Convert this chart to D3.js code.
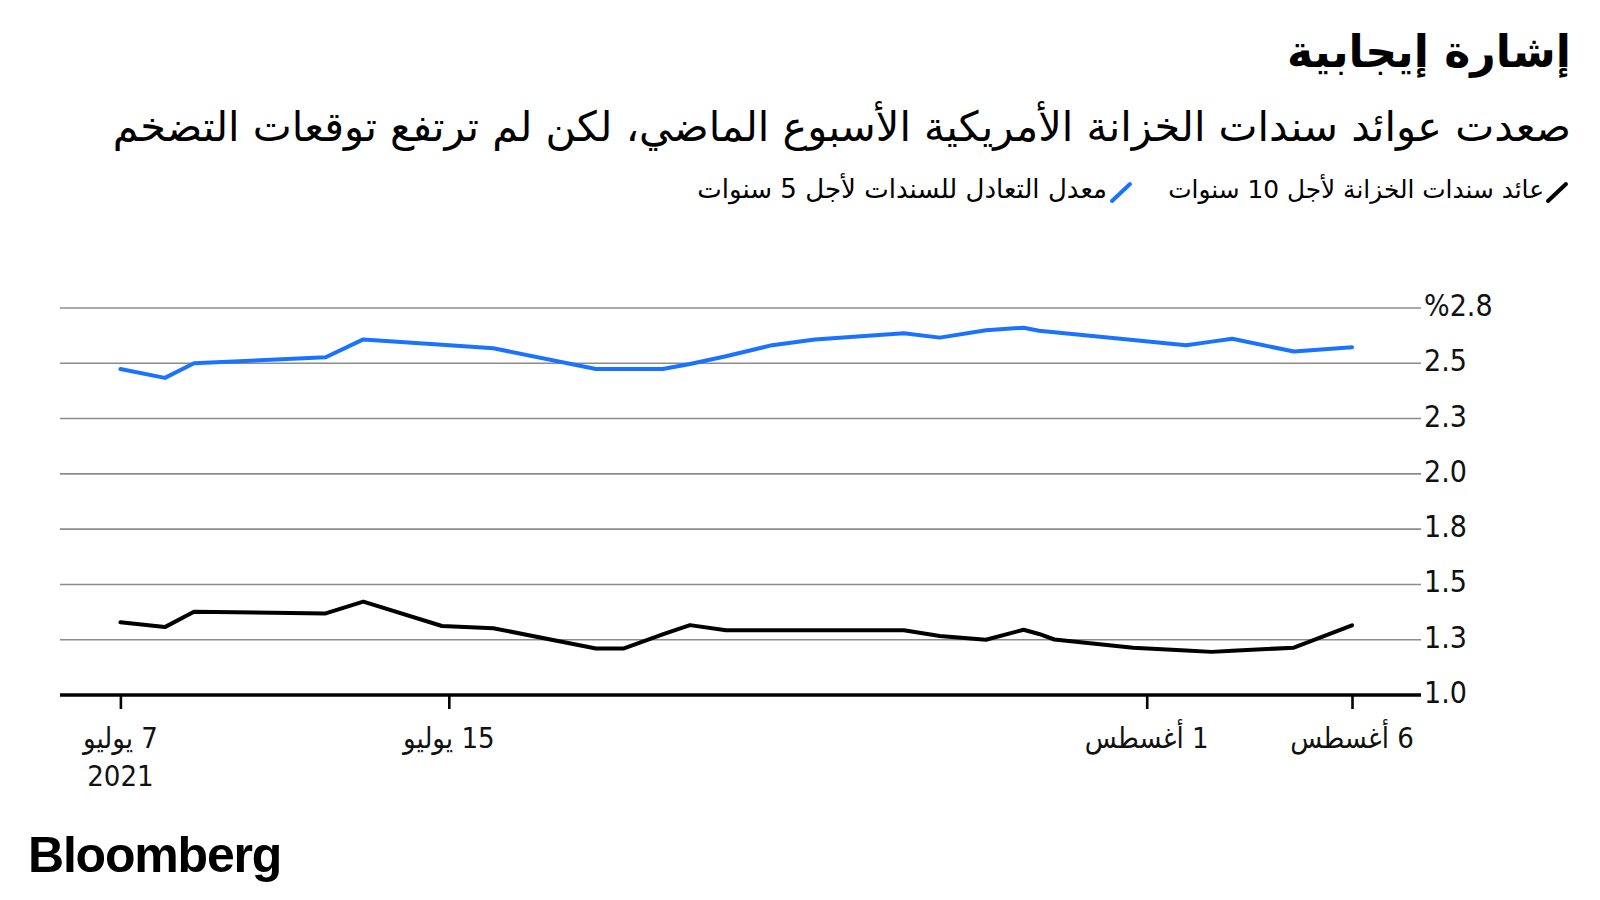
<!DOCTYPE html>
<html><head><meta charset="utf-8">
<script src="https://cdn.jsdelivr.net/npm/d3@7"></script>
<style>
html,body{margin:0;padding:0;background:#fff;}
#chart{position:relative;width:1600px;height:900px;overflow:hidden;background:#fff;}
.ar{position:absolute;direction:rtl;white-space:nowrap;font-family:"DejaVu Sans",sans-serif;color:#000;line-height:1.2;}
svg{position:absolute;left:0;top:0;}
</style></head><body><div id="chart"></div>
<script>
// ---- text ----
const titleText = "إشارة إيجابية";
const subtitleText = "صعدت عوائد سندات الخزانة الأمريكية الأسبوع الماضي، لكن لم ترتفع توقعات التضخم";
const seriesNames = ["عائد سندات الخزانة لأجل 10 سنوات", "معدل التعادل للسندات لأجل 5 سنوات"];
const seriesColors = ["#000000", "#1a73ff"];
const sourceText = "Bloomberg";

// ---- data ----
const dates = [
  "2021-07-07T00:00","2021-07-08T02:00","2021-07-08T19:00","2021-07-12T00:00","2021-07-12T22:00",
  "2021-07-14T20:00","2021-07-16T02:00","2021-07-18T14:00","2021-07-19T06:00","2021-07-20T05:00",
  "2021-07-20T21:00","2021-07-21T18:00","2021-07-22T21:00","2021-07-23T22:00","2021-07-26T02:00",
  "2021-07-26T23:00","2021-07-28T02:00","2021-07-29T00:00","2021-07-29T09:00","2021-07-29T18:00",
  "2021-07-31T16:00","2021-08-01T23:00","2021-08-02T14:00","2021-08-03T02:00","2021-08-04T14:00",
  "2021-08-06T00:00"
];
const treasury10y = [
  1.329,1.307,1.376,1.369,1.422,
  1.312,1.302,1.210,1.210,1.274,
  1.316,1.293,1.293,1.293,1.293,
  1.267,1.250,1.295,1.276,1.251,
  1.214,1.201,1.195,1.200,1.214,
  1.315
];
const breakeven5y = [
  2.474,2.434,2.500,2.527,2.608,
  2.584,2.568,2.474,2.474,2.474,
  2.497,2.532,2.582,2.608,2.636,
  2.616,2.649,2.661,2.647,2.640,
  2.605,2.582,2.598,2.611,2.553,
  2.572
];
const yTicks = [1.0,1.25,1.5,1.75,2.0,2.25,2.5,2.75];
const yTickLabels = ["1.0","1.3","1.5","1.8","2.0","2.3","2.5","%2.8"];
const xTicks = ["2021-07-07","2021-07-15","2021-08-01","2021-08-06"];
const xTickLabels = [["7 يوليو","2021"],["15 يوليو"],["1 أغسطس"],["6 أغسطس"]];

// ---- layout ----
const W = 1600, H = 900;
const plotLeft = 60, plotRight = 1421, plotTop = 308, plotBottom = 695;
const parseT = d3.timeParse("%Y-%m-%dT%H:%M");
const parseD = d3.timeParse("%Y-%m-%d");

const chart = d3.select("#chart");
const svg = chart.append("svg").attr("width", W).attr("height", H);

const x = d3.scaleTime()
  .domain([parseD("2021-07-07"), parseD("2021-08-06")])
  .range([120.4, 1352]);
const y = d3.scaleLinear().domain([1.0, 2.75]).range([plotBottom, plotTop]);

// gridlines
svg.append("g").selectAll("line")
  .data(yTicks.filter(v => v !== 1.0))
  .join("line")
  .attr("x1", plotLeft).attr("x2", plotRight)
  .attr("y1", d => y(d)).attr("y2", d => y(d))
  .attr("stroke", "#8c8c8c").attr("stroke-width", 1.6);

// y labels
const narrow = '"Liberation Sans Narrow","Arial Narrow","DejaVu Sans Condensed","Liberation Sans",sans-serif';
svg.append("g").selectAll("text")
  .data(yTicks)
  .join("text")
  .attr("x", plotRight + 3)
  .attr("y", d => y(d) + 8)
  .attr("font-family", narrow)
  .attr("font-size", 30)
  .attr("fill", "#111")
  .text((d, i) => yTickLabels[i]);

// x axis
const xAxis = d3.axisBottom(x)
  .tickValues(xTicks.map(parseD))
  .tickSize(14)
  .tickFormat("");
const gx = svg.append("g").attr("transform", `translate(0,${plotBottom})`).call(xAxis);
gx.select(".domain").remove();
gx.selectAll(".tick line").attr("stroke", "#000").attr("stroke-width", 2.6);
gx.insert("line", ":first-child")
  .attr("x1", plotLeft).attr("x2", plotRight).attr("y1", 0).attr("y2", 0)
  .attr("stroke", "#000").attr("stroke-width", 3.6);

// x labels
const xl = svg.append("g").selectAll("text")
  .data(xTicks)
  .join("text")
  .attr("x", d => x(parseD(d)))
  .attr("y", plotBottom + 53)
  .attr("text-anchor", "middle")
  .attr("direction", "rtl")
  .attr("font-family", narrow)
  .attr("font-size", 29)
  .attr("fill", "#111");
xl.each(function(d, i) {
  const t = d3.select(this);
  xTickLabels[i].forEach((s, j) => {
    t.append("tspan").attr("x", x(parseD(d))).attr("dy", j === 0 ? 0 : 38).text(s);
  });
});

// lines
const line = d3.line()
  .x((d, i) => x(parseT(dates[i])))
  .y(d => y(d));
[[treasury10y, seriesColors[0]], [breakeven5y, seriesColors[1]]].forEach(([vals, col]) => {
  svg.append("path")
    .datum(vals)
    .attr("d", line)
    .attr("fill", "none")
    .attr("stroke", col)
    .attr("stroke-width", 4)
    .attr("stroke-linejoin", "round")
    .attr("stroke-linecap", "round");
});

// ---- headings (HTML, RTL) ----
function fitBlock(text, rightEdge, targetW, cy, startFs, weight) {
  const div = chart.append("div").attr("class", "ar")
    .style("right", (W - rightEdge) + "px")
    .style("font-weight", weight)
    .style("font-size", startFs + "px")
    .text(text);
  const w = div.node().getBoundingClientRect().width;
  const fs = startFs * targetW / w;
  div.style("font-size", fs + "px");
  const h = div.node().getBoundingClientRect().height;
  div.style("top", (cy - h / 2) + "px");
  return div;
}
fitBlock(titleText, 1571, 284, 52, 44, "bold");
fitBlock(subtitleText, 1571, 1459, 128, 36, "normal");
fitBlock(seriesNames[0], 1544, 376, 190, 24, "normal");
fitBlock(seriesNames[1], 1107, 410, 190, 24, "normal");

// legend swatches
const sw = svg.append("g");
[[1548, seriesColors[0]], [1112, seriesColors[1]]].forEach(([sx, col]) => {
  sw.append("line")
    .attr("x1", sx).attr("y1", 201).attr("x2", sx + 18).attr("y2", 184)
    .attr("stroke", col).attr("stroke-width", 4).attr("stroke-linecap", "round");
});

// source
svg.append("text")
  .attr("x", 28).attr("y", 872)
  .attr("font-family", '"Liberation Sans",Arial,sans-serif')
  .attr("font-weight", "bold")
  .attr("font-size", 50)
  .attr("letter-spacing", -1.2)
  .attr("fill", "#000")
  .text(sourceText);
</script></body></html>
